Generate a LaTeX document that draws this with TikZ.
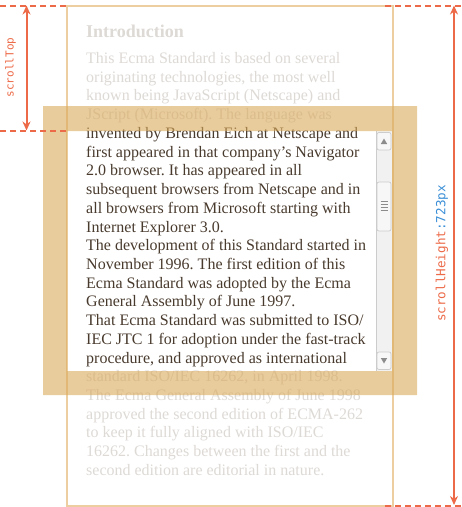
\documentclass[tikz,border=0pt]{standalone}
\usepackage{fontspec}
\setmainfont{Liberation Serif}
\newfontfamily\monof{DejaVu Sans Mono}
\usetikzlibrary{arrows.meta}
\frenchspacing
\definecolor{fadec}{RGB}{221,217,213}
\definecolor{darkc}{RGB}{72,58,45}
\definecolor{boxc}{RGB}{236,206,160}
\definecolor{bandc}{RGB}{218,170,90}
\definecolor{redc}{RGB}{236,106,72}
\definecolor{bluec}{RGB}{58,142,214}
\definecolor{sbtrack}{RGB}{241,241,241}
\definecolor{sbedge}{RGB}{204,204,204}
\definecolor{sbglyph}{RGB}{140,140,140}
\tikzset{
  txt/.style={anchor=base west, font=\fontsize{16}{18}\selectfont, inner sep=0pt, text=fadec},
  dk/.style={text=darkc},
  redline/.style={draw=redc, line width=2pt, dash pattern=on 6pt off 4pt},
  dimline/.style={draw=redc, line width=2pt, {Stealth[length=9pt,width=8pt]}-{Stealth[length=9pt,width=8pt]}},
  sbbox/.style={draw=sbedge, line width=0.7pt, fill=white!97!black, rounded corners=2pt},
  lbl/.style={rotate=90, inner sep=0pt}
}
\begin{document}
\begin{tikzpicture}[x=1pt,y=-1pt]
\useasboundingbox (0,0) rectangle (462,507);
% content box
\draw[boxc, line width=2pt] (67,5.5) rectangle (393,505.5);
% text
\node[txt, font=\bfseries\fontsize{18}{20}\selectfont] (h) at (86,37.5) {Introduction};
\node[txt] (l1) at (86,63.5) {This Ecma Standard is based on several};
\node[txt] (l2) at (86,82.2) {originating technologies, the most well};
\node[txt] (l3) at (86,100.9) {known being JavaScript (Netscape) and};
\node[txt] (l4) at (86,119.7) {JScript (Microsoft). The language was};
\node[txt,dk] (l5) at (86,138.4) {invented by Brendan Eich at Netscape and};
\node[txt,dk] (l6) at (86,157.1) {first appeared in that company’s Navigator};
\node[txt,dk] (l7) at (86,175.8) {2.0 browser. It has appeared in all};
\node[txt,dk] (l8) at (86,194.5) {subsequent browsers from Netscape and in};
\node[txt,dk] (l9) at (86,213.3) {all browsers from Microsoft starting with};
\node[txt,dk] (l10) at (86,232.0) {Internet Explorer 3.0.};
\node[txt,dk] (l11) at (86,250.7) {The development of this Standard started in};
\node[txt,dk] (l12) at (86,269.4) {November 1996. The first edition of this};
\node[txt,dk] (l13) at (86,288.1) {Ecma Standard was adopted by the Ecma};
\node[txt,dk] (l14) at (86,306.9) {General Assembly of June 1997.};
\node[txt,dk] (l15) at (86,325.6) {That Ecma Standard was submitted to ISO/};
\node[txt,dk] (l16) at (86,344.3) {IEC JTC 1 for adoption under the fast-track};
\node[txt,dk] (l17) at (86,363.0) {procedure, and approved as international};
\node[txt] (l18) at (86,381.7) {standard ISO/IEC 16262, in April 1998.};
\node[txt] (l19) at (86,400.5) {The Ecma General Assembly of June 1998};
\node[txt] (l20) at (86,419.2) {approved the second edition of ECMA-262};
\node[txt] (l21) at (86,437.9) {to keep it fully aligned with ISO/IEC};
\node[txt] (l22) at (86,456.6) {16262. Changes between the first and the};
\node[txt] (l23) at (86,475.3) {second edition are editorial in nature.};
% scrollbar
\fill[sbtrack] (376,131) rectangle (392,371);
\draw[sbedge, line width=0.6pt] (376,131) -- (376,371);
\draw[sbbox] (377,132.5) rectangle (391,150);
\fill[sbglyph] (380.8,144) -- (387.2,144) -- (384,138.5) -- cycle;
\draw[sbbox] (377,182) rectangle (391,231);
\foreach \yy in {201,204,207,210} \draw[sbglyph, line width=1pt] (380.5,\yy) -- (387.5,\yy);
\draw[sbbox] (377,352) rectangle (391,369.5);
\fill[sbglyph] (380.8,358) -- (387.2,358) -- (384,363.5) -- cycle;
% border band
\fill[bandc, fill opacity=0.6, even odd rule] (43,106) rectangle (417,395) (67,131) rectangle (392,371);
% dashed guides
\coordinate (a0) at (0,5.5);
\coordinate (a1) at (67,5.5);
\coordinate (b0) at (0,130.5);
\coordinate (b1) at (68,130.5);
\coordinate (c0) at (385,5.5);
\coordinate (c1) at (462,5.5);
\coordinate (d0) at (385,505.5);
\coordinate (d1) at (462,505.5);
\draw[redline] (a0) -- (a1);
\draw[redline] (b0) -- (b1);
\draw[redline] (c0) -- (c1);
\draw[redline] (d0) -- (d1);
% dimension arrows
\coordinate (tl) at (26.5,5.5);
\coordinate (bl) at (26.5,130.5);
\coordinate (tr) at (454,5.5);
\coordinate (br) at (454,505);
\draw[dimline] (tl) -- (bl);
\draw[dimline] (tr) -- (br);
\node[lbl, font=\monof\fontsize{11}{13}\selectfont, text=redc] (st) at (10.5,67.5) {scrollTop};
\node[lbl, font=\monof\fontsize{12.6}{14}\selectfont] (sh) at (442,253.5) {\textcolor{redc}{scrollHeight}\textcolor{bluec}{:723px}};
\end{tikzpicture}
\end{document}
